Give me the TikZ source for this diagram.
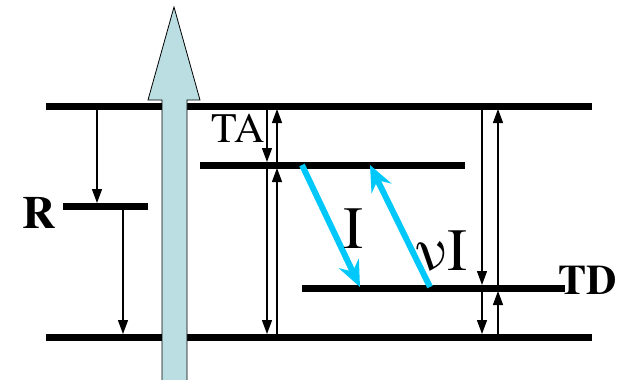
\documentclass[tikz,border=0pt]{standalone}
\usepackage{fontspec}
\setmainfont{texgyretermes-regular.otf}[BoldFont=texgyretermes-bold.otf]
\usetikzlibrary{arrows.meta}

\definecolor{beamfill}{RGB}{186,222,226}
\definecolor{optblue}{RGB}{0,200,250}

\tikzset{
  level/.style={line width=7pt},
  jump/.style={line width=1.3pt, -{Triangle[length=14pt,width=10pt]}, shorten >=3pt},
  optical/.style={optblue, line width=6pt, -{Stealth[length=26pt,width=22pt,inset=9pt]}},
  lbl/.style={inner sep=0pt, anchor=base},
}

\begin{document}
\begin{tikzpicture}[x=1pt,y=-1pt]
    \useasboundingbox (0,0) rectangle (622,380);

    % Energy levels
    \coordinate (cb) at (46,106);
    \coordinate (vb) at (46,337);
    \coordinate (rl) at (63,206);
    \coordinate (ta) at (200,165);
    \coordinate (td) at (302,288);
    \draw [level] (cb) -- (592,106);
    \draw [level] (vb) -- (592,337);
    \draw [level] (rl) -- (148,206);
    \draw [level] (ta) -- (465,165);
    \draw [level] (td) -- (565,288);

    % Columns of the black arrows
    \coordinate (ka) at (97,0);
    \coordinate (kb) at (123,0);
    \coordinate (kc) at (267,0);
    \coordinate (kd) at (277,0);
    \coordinate (ke) at (482,0);
    \coordinate (kf) at (498,0);

    % Recombination centre
    \draw [jump] (ka|-cb) -- (ka|-rl);
    \draw [jump] (kb|-rl) -- (kb|-vb);

    % Acceptor level
    \draw [jump] (kc|-cb) -- (kc|-ta);
    \draw [jump] (kd|-ta) -- (kd|-cb);
    \draw [jump] (kc|-ta) -- (kc|-vb);
    \draw [jump] (kd|-vb) -- (kd|-ta);

    % Donor level
    \draw [jump] (ke|-cb) -- (ke|-td);
    \draw [jump] (kf|-td) -- (kf|-cb);
    \draw [jump] (ke|-td) -- (ke|-vb);
    \draw [jump] (kf|-vb) -- (kf|-td);

    % Optical transitions
    \coordinate (i0) at (302,165);
    \coordinate (i1) at (360,287);
    \coordinate (n0) at (430,287);
    \coordinate (n1) at (370,165);
    \draw [optical] (i0) -- (i1);
    \draw [optical] (n0) -- (n1);

    % Excitation
    \draw [fill=beamfill, line width=0.8pt]
        (162,382) -- (162,100) -- (148,100) -- (174,7)
        -- (200,100) -- (187,100) -- (187,382);

    % Labels
    \node [lbl, font=\fontsize{42}{42}\selectfont] (lta) at (238,142) {TA};
    \node [lbl, font=\fontsize{42}{42}\selectfont\bfseries] (ltd) at (588,294) {TD};
    \node [lbl, font=\fontsize{46}{46}\selectfont\bfseries] (lr) at (39,228) {R};
    \node [lbl, font=\fontsize{60}{60}\selectfont] (li) at (353,248) {I};
    \node [lbl, font=\fontsize{60}{60}\selectfont] (lni) at (441,270) {νI};
\end{tikzpicture}
\end{document}
